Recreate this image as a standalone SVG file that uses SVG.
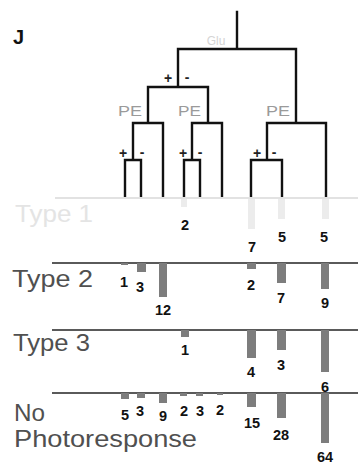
<svg xmlns="http://www.w3.org/2000/svg" width="358" height="467" viewBox="0 0 358 467">
<style>
.tree{fill:none;stroke:#111;stroke-width:2.4;stroke-linecap:square}
.row{stroke:#5a5a5a;stroke-width:1.8}
.faded{stroke:#e2e2e2;stroke-width:1.8}
.bar{fill:#7d7d7d}
.fbar{fill:#ececec}
.num{font-family:"Liberation Sans",Arial,sans-serif;font-weight:bold;font-size:14.5px;fill:#111;text-anchor:middle}
.lbl{font-family:"Liberation Sans",Arial,sans-serif;font-size:24px;fill:#505050}
.pe{font-family:"Liberation Sans",Arial,sans-serif;font-size:14px;fill:#9a9a9a}
.pm{font-family:"Liberation Sans",Arial,sans-serif;font-size:14px;font-weight:bold;fill:#222;text-anchor:middle}
</style>
<text x="13" y="44" font-family="Liberation Sans,Arial,sans-serif" font-weight="bold" font-size="20" fill="#111">J</text>
<g id="connectors">
<path class="tree" d="M237 12V49M178 49H296M178 49V87M148 87H208M148 87V123M133 123H163M133 123V160M125 160H141M125 160V197M141 160V197M163 123V197M208 87V123M192 123H222M192 123V160M184 160H200M184 160V197M200 160V197M222 123V197M296 49V123M267 123H326M267 123V160M251 160H282M251 160V197M282 160V197M326 123V197"/>
</g>
<g id="tree-labels">
<text x="216" y="45" font-family="Liberation Sans,Arial,sans-serif" font-size="12" fill="#d4d4d4" text-anchor="middle">Glu</text>
<text class="pm" x="168" y="83">+</text><text class="pm" x="187" y="82">-</text>
<text class="pe" x="118" y="116" textLength="24" lengthAdjust="spacingAndGlyphs">PE</text>
<text class="pe" x="178" y="116" textLength="23" lengthAdjust="spacingAndGlyphs">PE</text>
<text class="pe" x="266" y="116" textLength="24" lengthAdjust="spacingAndGlyphs">PE</text>
<text class="pm" x="123" y="158">+</text><text class="pm" x="142" y="157">-</text>
<text class="pm" x="183" y="158">+</text><text class="pm" x="200" y="157">-</text>
<text class="pm" x="257" y="158">+</text><text class="pm" x="274" y="157">-</text>
</g>
<g id="type1">
<line class="faded" x1="55" y1="198" x2="358" y2="198"/>
<rect class="fbar" x="181" y="199" width="6" height="8"/>
<rect class="fbar" x="248" y="199" width="7" height="30"/>
<rect class="fbar" x="278" y="199" width="7" height="20"/>
<rect class="fbar" x="322" y="199" width="7" height="20"/>
<text class="lbl" x="15" y="222" style="fill:#e4e4e4" textLength="78" lengthAdjust="spacingAndGlyphs">Type 1</text>
<text class="num" x="185" y="230">2</text>
<text class="num" x="252" y="252">7</text>
<text class="num" x="282" y="242">5</text>
<text class="num" x="324" y="242">5</text>
</g>
<g id="type2">
<line class="row" x1="52" y1="263" x2="358" y2="263"/>
<rect class="bar" x="121" y="263" width="7" height="2"/>
<rect class="bar" x="137" y="263" width="9" height="9"/>
<rect class="bar" x="159" y="263" width="8" height="34"/>
<rect class="bar" x="247" y="263" width="9" height="6"/>
<rect class="bar" x="277" y="263" width="9" height="20"/>
<rect class="bar" x="321" y="263" width="8" height="26"/>
<text class="lbl" x="12" y="287" textLength="81" lengthAdjust="spacingAndGlyphs">Type 2</text>
<text class="num" x="124" y="287">1</text>
<text class="num" x="140" y="292">3</text>
<text class="num" x="163" y="315">12</text>
<text class="num" x="251" y="290">2</text>
<text class="num" x="281" y="303">7</text>
<text class="num" x="325" y="308">9</text>
</g>
<g id="type3">
<line class="row" x1="52" y1="330" x2="358" y2="330"/>
<rect class="bar" x="181" y="330" width="8" height="7"/>
<rect class="bar" x="247" y="330" width="9" height="28"/>
<rect class="bar" x="277" y="330" width="9" height="20"/>
<rect class="bar" x="321" y="330" width="8" height="42"/>
<text class="lbl" x="13" y="351" textLength="77" lengthAdjust="spacingAndGlyphs">Type 3</text>
<text class="num" x="185" y="355">1</text>
<text class="num" x="251" y="377">4</text>
<text class="num" x="281" y="370">3</text>
<text class="num" x="325" y="392">6</text>
</g>
<g id="no-photoresponse">
<line class="row" x1="52" y1="393" x2="358" y2="393"/>
<rect class="bar" x="121" y="393" width="8" height="6"/>
<rect class="bar" x="137" y="393" width="8" height="5"/>
<rect class="bar" x="159" y="393" width="8" height="10"/>
<rect class="bar" x="180" y="393" width="7" height="3"/>
<rect class="bar" x="196" y="393" width="7" height="3"/>
<rect class="bar" x="217" y="393" width="6" height="2"/>
<rect class="bar" x="247" y="393" width="9" height="14"/>
<rect class="bar" x="277" y="393" width="9" height="25"/>
<rect class="bar" x="321" y="393" width="8" height="50"/>
<text class="lbl" x="14" y="421" textLength="31" lengthAdjust="spacingAndGlyphs">No</text>
<text class="lbl" x="14" y="447" textLength="183" lengthAdjust="spacingAndGlyphs">Photoresponse</text>
<text class="num" x="125" y="420">5</text>
<text class="num" x="140" y="416">3</text>
<text class="num" x="163" y="421">9</text>
<text class="num" x="184" y="416">2</text>
<text class="num" x="200" y="416">3</text>
<text class="num" x="220" y="415">2</text>
<text class="num" x="252" y="428">15</text>
<text class="num" x="281" y="440">28</text>
<text class="num" x="325" y="462">64</text>
</g>
</svg>
